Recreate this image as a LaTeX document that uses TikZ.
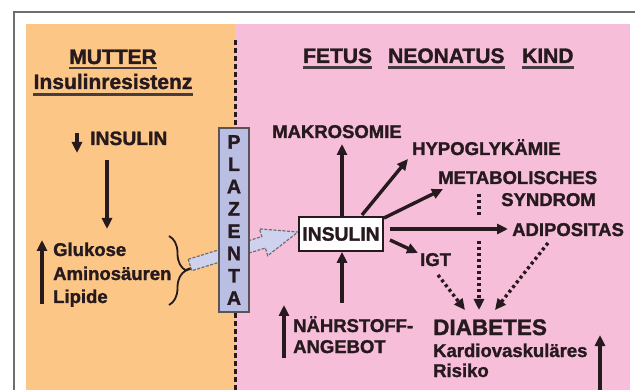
\documentclass[tikz,border=0pt]{standalone}
\usepackage{fontspec}
\setmainfont{Liberation Sans}[BoldFeatures={FakeBold=1.5}]
\usetikzlibrary{arrows.meta,decorations.pathreplacing,calc}
\definecolor{orangebg}{RGB}{252,198,134}
\definecolor{pinkbg}{RGB}{247,190,218}
\definecolor{ink}{RGB}{38,26,30}
\definecolor{plac}{RGB}{186,190,226}
\definecolor{flow}{RGB}{206,210,238}
\definecolor{framegray}{RGB}{110,110,110}
\begin{document}
\begin{tikzpicture}[x=1pt,y=-1pt,
  txt/.style={inner sep=0pt, text=ink, font=\bfseries\fontsize{18.5}{22}\selectfont},
  txtb/.style={inner sep=0pt, text=ink, font=\bfseries\fontsize{19.3}{22}\selectfont},
  head/.style={inner sep=0pt, text=ink, font=\bfseries\fontsize{21}{25}\selectfont},
  arr/.style={draw=ink, line width=3.4pt, -{Triangle[length=11pt,width=10pt]}},
  dotarr/.style={arr, dash pattern=on 3pt off 3pt},
  dotline/.style={draw=ink, line width=3.4pt, dash pattern=on 3pt off 3pt},
  uline/.style={draw=ink!85, line width=2.2pt}]
% background and frame
\fill[white] (0,0) rectangle (635,390);
\useasboundingbox (0,0) rectangle (635,390);
\draw[framegray, line width=2pt] (14,390) -- (14,12) -- (635,12);
\fill[orangebg] (26,24) rectangle (235,390);
\fill[pinkbg] (235,24) rectangle (630,390);

% left headings
\node[head, anchor=base] (mutter) at (113,64) {MUTTER};
\node[head, anchor=base] (ires) at (113,89) {Insulinresistenz};
\draw[uline] ([yshift=-4pt]mutter.base west) -- ([yshift=-4pt]mutter.base east);
\draw[uline] ([yshift=-5.5pt]ires.base west) -- ([yshift=-5.5pt]ires.base east);

% left content
\node[txtb, anchor=base west] (insL) at (90,145) {INSULIN};
\coordinate (dnA) at (77,133);
\coordinate (dnB) at (77,153);
\draw[arr] (dnA) -- (dnB);
\coordinate (insLout) at (107,160);
\coordinate (glukIn) at (107,229);
\draw[arr] (insLout) -- (glukIn);
\node[txt, anchor=base west] (gluk) at (53,256) {Glukose};
\node[txt, anchor=base west] (amino) at (53,280) {Aminosäuren};
\node[txt, anchor=base west] (lip) at (53,303) {Lipide};
\coordinate (upA) at (42,304);
\coordinate (upB) at (42,240);
\draw[arr] (upA) -- (upB);
\draw[ink, line width=1.8pt, decorate, decoration={brace, amplitude=17pt}] (169,236) -- (169,305);
\coordinate (bracetip) at (185,270.5);
\coordinate (flowtail) at (192,268);
\draw[ink, line width=2.4pt] (bracetip) -- (flowtail);

% transfer arrow (behind placenta)
\draw[draw=framegray, fill=flow, line width=1.2pt, dash pattern=on 3pt off 1.5pt]
  (188.2,259.3) -- (261.8,236.6) -- (259.5,228.9) -- (298,232) -- (267.7,255.7)
  -- (265.4,248.0) -- (191.8,270.7) -- cycle;

% placenta
\node[draw=ink!75, fill=plac, line width=1.4pt, minimum width=30pt, minimum height=184pt,
  inner sep=0pt, align=center, text=ink,
  font=\bfseries\fontsize{19.5}{22.3}\selectfont] (pl) at (234,220)
  {P\\L\\A\\Z\\E\\N\\T\\A};
\coordinate (dashTop) at (235,40);
\coordinate (dashBot) at (235,390);
\draw[ink, line width=3pt, dash pattern=on 5pt off 3pt] (dashTop) -- (dashTop |- pl.north);
\draw[ink, line width=3pt, dash pattern=on 5pt off 3pt] (dashBot |- pl.south) -- (dashBot);

% right headings
\node[head, anchor=base west] (fetus) at (303,63) {FETUS};
\node[head, anchor=base west] (neo) at (388,63) {NEONATUS};
\node[head, anchor=base west] (kind) at (522,63) {KIND};
\foreach \n in {fetus,neo,kind}
  \draw[uline] ([yshift=-4.5pt]\n.base west) -- ([yshift=-4.5pt]\n.base east);

% right content
\node[draw=ink, fill=white, line width=1.6pt, minimum width=84pt, minimum height=34pt,
  inner sep=0pt, text=ink, font=\bfseries\fontsize{19.3}{22}\selectfont] (box) at (341,234) {INSULIN};
\node[txt, anchor=base west] (makro) at (272,138) {MAKROSOMIE};
\node[txt, anchor=base west] (hypo) at (412,155) {HYPOGLYKÄMIE};
\node[txt, anchor=base west] (metab) at (438,184) {METABOLISCHES};
\node[txt, anchor=base east] (syn) at (596,206) {SYNDROM};
\node[txt, anchor=base west] (adipo) at (512,236) {ADIPOSITAS};
\node[txt, anchor=base west] (igt) at (420,266) {IGT};
\node[txt, anchor=base west] (naehr) at (293,332) {NÄHRSTOFF-};
\node[txt, anchor=base west] (angebot) at (293,353) {ANGEBOT};
\node[inner sep=0pt, text=ink, font=\bfseries\fontsize{22.5}{26}\selectfont, anchor=base west] (diab) at (433,335) {DIABETES};
\node[txt, anchor=base west] (kardio) at (433,357) {Kardiovaskuläres};
\node[txt, anchor=base west] (risiko) at (433,377) {Risiko};

% arrows from INSULIN box
\coordinate (makroIn) at (342,144);
\coordinate (hypoOut) at (362,215);
\coordinate (hypoIn) at (408,159);
\coordinate (metOut) at (384,218);
\coordinate (metIn) at (443,189);
\coordinate (adiOut) at (390,229);
\coordinate (adiIn) at (508,229);
\coordinate (igtOut) at (390,240);
\coordinate (igtIn) at (418,253);
\draw[arr] (box.north -| makroIn) -- (makroIn);
\draw[arr] (hypoOut) -- (hypoIn);
\draw[arr] (metOut) -- (metIn);
\draw[arr] (adiOut) -- (adiIn);
\draw[arr] (igtOut) -- (igtIn);
\coordinate (naehrOut) at (342,303);
\draw[arr] (naehrOut) -- (box.south -| naehrOut);
\coordinate (naA) at (284,358);
\coordinate (naB) at (284,305);
\draw[arr] (naA) -- (naB);

% dotted arrows to DIABETES
\coordinate (metD1) at (479,194);
\coordinate (metD2) at (479,216);
\draw[dotline] (metD1) -- (metD2);
\coordinate (metD3) at (479,241);
\coordinate (diabM) at (479,310);
\draw[dotarr] (metD3) -- (diabM);
\coordinate (igtD) at (438,275);
\coordinate (diabL) at (465,310);
\draw[dotarr] (igtD) -- (diabL);
\coordinate (adiD) at (548,243);
\coordinate (diabR) at (495,310);
\draw[dotarr] (adiD) -- (diabR);

% bottom right arrow
\coordinate (brA) at (600,390);
\coordinate (brB) at (600,335);
\draw[arr] (brA) -- (brB);
\end{tikzpicture}
\end{document}
